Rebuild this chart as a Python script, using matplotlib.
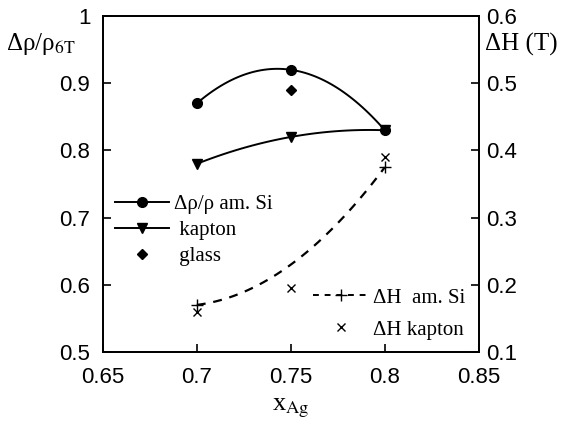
import numpy as np
import matplotlib.pyplot as plt

x_ag = [0.7, 0.75, 0.8]
rho_amsi = [0.87, 0.92, 0.83]
rho_kapton = [0.78, 0.82, 0.83]
glass_x = [0.75]
rho_glass = [0.89]
dh_amsi = [0.17, 0.23, 0.375]
dh_kapton = [0.16, 0.195, 0.39]

serif = 'Liberation Serif'
sans = 'Liberation Sans'

fig = plt.figure(figsize=(5.68, 4.22), dpi=100)
ax = fig.add_axes([0.181, 0.166, 0.662, 0.796])
ax2 = ax.twinx()


def smooth(xs, ys):
    c = np.polyfit(xs, ys, 2)
    xx = np.linspace(xs[0], xs[-1], 60)
    return xx, np.polyval(c, xx)


xx, yy = smooth(x_ag, rho_amsi)
ax.plot(xx, yy, color='black', lw=1.4)
ax.plot(x_ag, rho_amsi, 'o', color='black', ms=7, ls='none')
xx, yy = smooth(x_ag, rho_kapton)
ax.plot(xx, yy, color='black', lw=1.4)
ax.plot(x_ag, rho_kapton, 'v', color='black', ms=7, ls='none')
ax.plot(glass_x, rho_glass, 'D', color='black', ms=5, ls='none')

xx, yy = smooth(x_ag, dh_amsi)
ax2.plot(xx, yy, color='black', lw=1.6, ls=(0, (4, 3.5)))
ax2.plot([x_ag[0], x_ag[-1]], [dh_amsi[0], dh_amsi[-1]], '+', color='black', ms=8, ls='none')
ax2.plot(x_ag, dh_kapton, 'x', color='black', ms=6, ls='none')

ax.set_xlim(0.65, 0.85)
ax.set_ylim(0.5, 1.0)
ax2.set_ylim(0.1, 0.6)
ax.set_xticks([0.65, 0.7, 0.75, 0.8, 0.85])
ax.set_xticklabels(['0.65', '0.7', '0.75', '0.8', '0.85'])
ax.set_yticks([0.5, 0.6, 0.7, 0.8, 0.9, 1.0])
ax.set_yticklabels(['0.5', '0.6', '0.7', '0.8', '0.9', '1'])
ax2.set_yticks([0.1, 0.2, 0.3, 0.4, 0.5, 0.6])
ax2.set_yticklabels(['0.1', '0.2', '0.3', '0.4', '0.5', '0.6'])

for a in (ax, ax2):
    a.tick_params(direction='in', length=6, width=1.2, labelsize=16, pad=5)
    for lab in a.get_xticklabels() + a.get_yticklabels():
        lab.set_fontfamily(sans)
    for s in a.spines.values():
        s.set_linewidth(1.3)
ax.tick_params(axis='y', pad=9)
ax.tick_params(axis='x', pad=11)

fig.text(0.01, 0.895, 'Δρ/ρ$_{\\mathrm{6T}}$', fontsize=18, fontfamily=serif,
         math_fontfamily='stix', ha='left', va='center')
fig.text(0.853, 0.895, 'ΔH (T)', fontsize=18, fontfamily=serif,
         ha='left', va='center')
fig.text(0.512, 0.033, 'x$_{\\mathrm{Ag}}$', fontsize=19, fontfamily=serif,
         math_fontfamily='stix', ha='center', va='center')

l1 = [plt.Line2D([], [], color='black', marker='o', ms=7, lw=1.4),
      plt.Line2D([], [], color='black', marker='v', ms=7, lw=1.4),
      plt.Line2D([], [], color='black', marker='D', ms=5, ls='none')]
leg1 = ax2.legend(l1, ['Δρ/ρ am. Si', ' kapton', ' glass'],
                  loc='upper left', bbox_to_anchor=(0.032, 0.468), frameon=False,
                  prop={'family': serif, 'size': 15}, handlelength=2.6,
                  handletextpad=0.25, labelspacing=0.3, borderaxespad=0,
                  borderpad=0)
ax2.add_artist(leg1)

l2 = [plt.Line2D([], [], color='black', marker='+', ms=8, lw=1.4, ls=(0, (3, 3))),
      plt.Line2D([], [], color='black', marker='x', ms=6, ls='none')]
leg2 = ax2.legend(l2, ['ΔH  am. Si', 'ΔH kapton'],
                  loc='upper left', bbox_to_anchor=(0.559, 0.19), frameon=False,
                  prop={'family': serif, 'size': 15}, handlelength=2.7,
                  handletextpad=0.2, labelspacing=0.6, borderaxespad=0,
                  borderpad=0)

fig.savefig('out.png', dpi=100)
